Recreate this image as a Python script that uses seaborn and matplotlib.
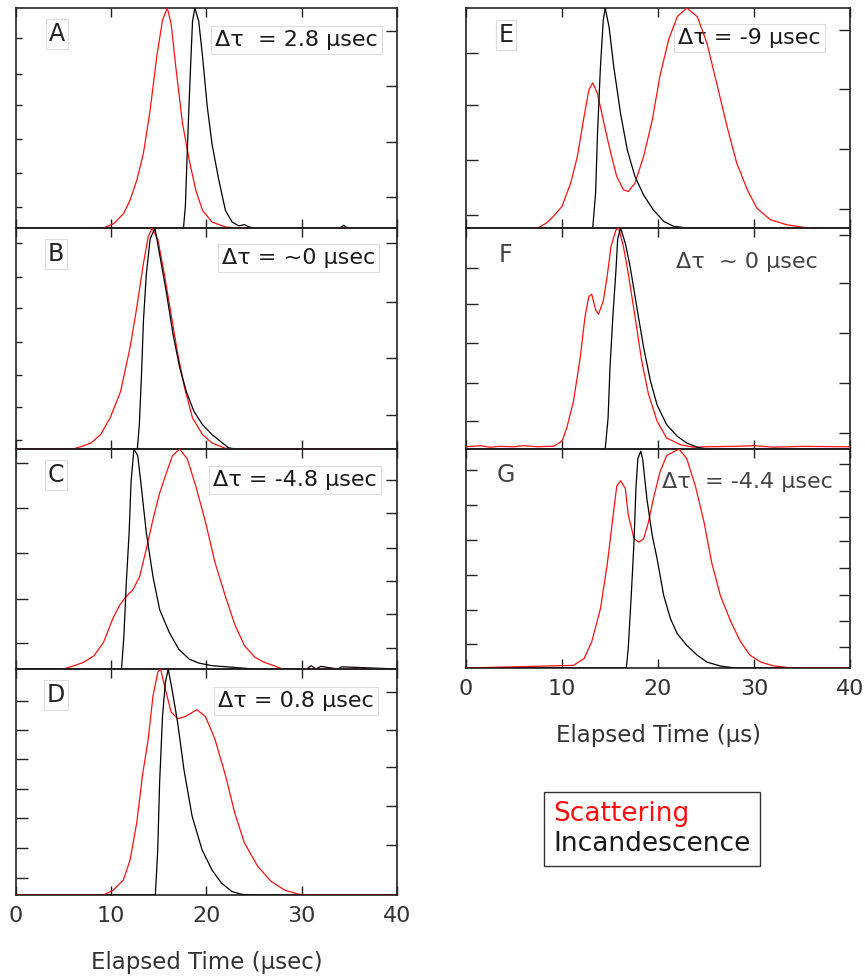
import numpy as np
import pandas as pd
import matplotlib
matplotlib.use("Agg")
import matplotlib.pyplot as plt
from matplotlib.lines import Line2D
import seaborn as sns

sns.set_style("ticks")
plt.rcParams["font.family"] = ["DejaVu Sans"]

# ---------------- data (normalized signal) ----------------
a_red_t = [0, 9.2, 10.3, 11.3, 12.0, 12.7, 13.4, 14.1, 14.8, 15.4, 15.9, 16.3, 16.8, 17.5, 18.2, 18.9, 19.6, 20.6, 22.0, 23.0, 40]
a_red_v = [0, 0, 0.02, 0.065, 0.126, 0.217, 0.34, 0.535, 0.78, 0.945, 1.0, 0.93, 0.73, 0.475, 0.31, 0.17, 0.08, 0.027, 0.005, 0, 0]
a_blk_t = [0, 17.6, 17.8, 18.0, 18.2, 18.4, 18.55, 18.8, 19.2, 19.6, 20.1, 20.6, 21.3, 22.0, 22.7, 23.4, 24.0, 24.5, 25.0, 34.0, 34.4, 34.8, 40]
a_blk_v = [0, 0, 0.1, 0.35, 0.58, 0.79, 0.94, 1.0, 0.94, 0.78, 0.55, 0.38, 0.22, 0.08, 0.027, 0.01, 0.015, 0.005, 0, 0, 0.012, 0, 0]

b_red_t = [0, 6.0, 6.8, 7.9, 8.9, 9.9, 11.0, 12.0, 12.7, 13.4, 13.9, 14.3, 14.9, 15.6, 16.3, 17.0, 17.7, 18.55, 19.6, 20.6, 22.0, 23.0, 40]
b_red_v = [0, 0, 0.01, 0.027, 0.065, 0.14, 0.26, 0.46, 0.64, 0.84, 0.96, 1.0, 0.95, 0.79, 0.61, 0.43, 0.28, 0.14, 0.065, 0.027, 0.003, 0, 0]
b_blk_t = [0, 12.76, 12.97, 13.2, 13.4, 13.7, 14.1, 14.6, 15.1, 15.8, 16.5, 17.2, 17.9, 18.7, 19.6, 20.6, 21.7, 22.3, 23.0, 40]
b_blk_v = [0, 0, 0.11, 0.34, 0.58, 0.79, 0.95, 1.0, 0.88, 0.71, 0.52, 0.37, 0.26, 0.17, 0.11, 0.065, 0.027, 0.006, 0, 0]

c_red_t = [0, 5.0, 6.1, 7.1, 8.2, 9.2, 10.2, 10.9, 11.6, 12.3, 13.0, 13.7, 14.4, 15.1, 15.8, 16.45, 17.2, 18.0, 18.9, 19.9, 20.9, 22.0, 23.0, 24.0, 25.1, 26.1, 27.1, 28.0, 40]
c_red_v = [0, 0, 0.015, 0.03, 0.06, 0.12, 0.23, 0.29, 0.33, 0.36, 0.42, 0.545, 0.68, 0.80, 0.89, 0.97, 1.0, 0.955, 0.83, 0.67, 0.485, 0.33, 0.20, 0.106, 0.053, 0.03, 0.015, 0, 0]
c_blk_t = [0, 11.1, 11.35, 11.6, 11.9, 12.1, 12.4, 12.8, 13.2, 13.7, 14.4, 15.1, 16.1, 17.1, 18.2, 19.2, 20.6, 22.7, 25.0, 30.5, 31.0, 31.5, 32.0, 33.8, 34.2, 40]
c_blk_v = [0, 0, 0.15, 0.39, 0.62, 0.85, 1.0, 0.97, 0.82, 0.62, 0.42, 0.27, 0.167, 0.09, 0.045, 0.027, 0.015, 0.008, 0, 0, 0.015, 0, 0.012, 0, 0.01, 0]

d_red_t = [0, 9.2, 10.2, 11.3, 12.0, 12.7, 13.3, 13.9, 14.4, 14.9, 15.2, 15.7, 16.3, 17.0, 17.8, 19.0, 19.9, 20.9, 22.0, 23.0, 24.0, 25.4, 26.8, 28.2, 29.6, 31.0, 40]
d_red_v = [0, 0, 0.02, 0.067, 0.155, 0.32, 0.53, 0.69, 0.88, 0.985, 1.0, 0.91, 0.81, 0.78, 0.79, 0.82, 0.79, 0.69, 0.53, 0.36, 0.23, 0.126, 0.06, 0.022, 0.004, 0, 0]
d_blk_t = [0, 14.65, 14.9, 15.1, 15.4, 15.7, 16.0, 16.4, 17.0, 17.65, 18.5, 19.55, 20.6, 21.6, 22.7, 23.7, 24.5, 40]
d_blk_v = [0, 0, 0.2, 0.5, 0.79, 0.94, 1.0, 0.91, 0.76, 0.555, 0.35, 0.2, 0.11, 0.052, 0.015, 0.003, 0, 0]

e_red_t = [0, 7.0, 7.6, 8.4, 9.1, 10.0, 10.9, 11.6, 12.3, 12.8, 13.2, 13.7, 14.3, 15.0, 15.7, 16.4, 16.9, 17.6, 18.5, 19.4, 20.2, 21.1, 22.0, 23.0, 24.1, 25.1, 26.1, 27.2, 28.2, 29.3, 30.3, 31.7, 33.4, 35.2, 36.0, 40]
e_red_v = [0, 0, 0.003, 0.023, 0.053, 0.098, 0.204, 0.325, 0.507, 0.628, 0.66, 0.61, 0.49, 0.355, 0.234, 0.174, 0.166, 0.204, 0.325, 0.49, 0.69, 0.855, 0.96, 1.0, 0.96, 0.84, 0.66, 0.46, 0.295, 0.174, 0.09, 0.038, 0.015, 0.003, 0, 0]
e_blk_t = [0, 13.2, 13.5, 13.7, 14.0, 14.3, 14.5, 14.9, 15.4, 16.1, 16.8, 17.6, 18.5, 19.5, 20.6, 21.6, 23.0, 40]
e_blk_v = [0, 0, 0.16, 0.43, 0.73, 0.945, 1.0, 0.915, 0.73, 0.52, 0.355, 0.234, 0.15, 0.083, 0.03, 0.008, 0, 0]

f_red_t = [0, 1.5, 2.5, 3.5, 5.0, 6.0, 7.5, 8.5, 9.1, 10.0, 10.5, 11.2, 11.9, 12.4, 12.8, 13.1, 13.5, 13.8, 14.3, 14.7, 15.1, 15.6, 15.9, 16.4, 16.9, 17.6, 18.3, 19.0, 19.9, 20.9, 22.3, 23.7, 25.0, 28.0, 30.0, 32.0, 35.0, 40]
f_red_v = [0.01, 0.015, 0.008, 0.012, 0.01, 0.015, 0.01, 0.012, 0.012, 0.035, 0.096, 0.217, 0.415, 0.6, 0.69, 0.70, 0.63, 0.61, 0.67, 0.78, 0.915, 0.99, 1.0, 0.915, 0.795, 0.6, 0.4, 0.25, 0.126, 0.05, 0.02, 0.008, 0.01, 0.012, 0.015, 0.008, 0.012, 0.01]
f_blk_t = [0, 14.5, 14.8, 15.0, 15.3, 15.6, 15.8, 16.1, 16.6, 17.1, 17.8, 18.5, 19.2, 19.9, 20.9, 22.0, 23.0, 24.1, 25.0, 40]
f_blk_v = [0, 0, 0.14, 0.37, 0.6, 0.795, 0.95, 1.0, 0.93, 0.825, 0.64, 0.46, 0.31, 0.2, 0.11, 0.058, 0.027, 0.008, 0, 0]

g_red_t = [0, 11.2, 12.3, 13.1, 14.0, 14.7, 15.2, 15.7, 16.1, 16.6, 16.9, 17.5, 18.0, 18.5, 19.0, 19.5, 20.2, 20.9, 22.2, 23.0, 23.9, 24.8, 25.6, 26.5, 27.6, 28.6, 29.6, 30.7, 32.0, 34.0, 40]
g_red_v = [0, 0.012, 0.043, 0.12, 0.27, 0.47, 0.65, 0.83, 0.855, 0.82, 0.7, 0.59, 0.575, 0.59, 0.665, 0.77, 0.894, 0.97, 1.0, 0.955, 0.83, 0.665, 0.48, 0.33, 0.21, 0.12, 0.058, 0.027, 0.01, 0, 0]
g_blk_t = [0, 16.7, 16.9, 17.2, 17.5, 17.7, 17.9, 18.2, 18.4, 18.85, 19.4, 19.9, 20.6, 21.3, 22.0, 23.0, 24.1, 25.1, 26.5, 28.0, 40]
g_blk_v = [0, 0, 0.09, 0.32, 0.575, 0.82, 0.955, 0.99, 0.955, 0.77, 0.605, 0.5, 0.33, 0.225, 0.157, 0.103, 0.058, 0.027, 0.009, 0, 0]

panel_letters = ["A", "B", "C", "D", "E", "F", "G"]
dt_labels = ["Δτ  = 2.8 µsec", "Δτ = ~0 µsec", "Δτ = -4.8 µsec", "Δτ = 0.8 µsec",
             "Δτ = -9 µsec", "Δτ  ~ 0 µsec", "Δτ  = -4.4 µsec"]
x_ticks = [0, 10, 20, 30, 40]
legend_labels = ["Scattering", "Incandescence"]

left_ticks = [[0.095, 0.25, 0.405, 0.56, 0.70, 0.864],
              [0.04, 0.19, 0.335, 0.485, 0.64, 0.78, 0.93],
              [0.118, 0.32, 0.528, 0.73, 0.938],
              [0.075, 0.21, 0.34, 0.47, 0.6, 0.73, 0.86],
              [0.06, 0.31, 0.56, 0.795],
              [0.127, 0.30, 0.48, 0.655, 0.82],
              [0.111, 0.264, 0.423, 0.586, 0.745, 0.904]]
right_ticks = [[0.14, 0.39, 0.645, 0.895],
               [0.155, 0.41, 0.665, 0.93],
               [0.097, 0.249, 0.4, 0.552, 0.707, 0.859],
               [0.22, 0.395, 0.565, 0.73, 0.9],
               [0.086, 0.36, 0.63, 0.9],
               [0.072, 0.3, 0.525, 0.75, 0.97],
               [0.097, 0.214, 0.335, 0.457, 0.578, 0.689, 0.809, 0.932]]

series = [(a_red_t, a_red_v, a_blk_t, a_blk_v), (b_red_t, b_red_v, b_blk_t, b_blk_v),
          (c_red_t, c_red_v, c_blk_t, c_blk_v), (d_red_t, d_red_v, d_blk_t, d_blk_v),
          (e_red_t, e_red_v, e_blk_t, e_blk_v), (f_red_t, f_red_v, f_blk_t, f_blk_v),
          (g_red_t, g_red_v, g_blk_t, g_blk_v)]

# ---------------- layout ----------------
W, H = 865, 977
fig = plt.figure(figsize=(W / 100, H / 100), dpi=100)

# axes boxes in pixels: (x0, x1, ytop, ybottom)
boxes = [(15.7, 397, 8, 228), (15.7, 397, 228, 449), (15.7, 397, 449, 669), (15.7, 397, 669, 895),
         (466, 850, 8, 228), (466, 850, 228, 449), (466, 850, 449, 668)]
left_len = [4.3, 4.5, 8.5, 8.5, 8.5, 8.5, 8]

def fx(x):
    return x / W

def fy(y):
    return 1 - y / H

letter_pos = [(57, 34, True), (56, 254, True), (56, 475, True), (56, 695, True),
              (506, 35, True), (505, 255, False), (506, 475, False)]
dt_pos = [(215, 40, True), (222, 258, True), (213, 480, True), (218, 701, True),
          (678, 38, True), (676, 262, False), (662, 482, False)]

for i, (x0, x1, yt, yb) in enumerate(boxes):
    ax = fig.add_axes([fx(x0), fy(yb), (x1 - x0) / W, (yb - yt) / H])
    rt, rv, bt, bv = series[i]
    sns.lineplot(x=rt, y=rv, ax=ax, color="#ff1010", lw=0.9, zorder=3)
    sns.lineplot(x=bt, y=bv, ax=ax, color="black", lw=0.9, zorder=3)
    ax.set_xlim(0, 40)
    ax.set_ylim(0, 1)
    ax.set_xticks(x_ticks)
    ax.set_yticks(left_ticks[i])
    ax.set_ylabel("")
    ax.set_xlabel("")
    ax.tick_params(axis="x", direction="in", top=True, bottom=True, length=6.5, width=1.0,
                   labelsize=16, pad=8, colors="#222222", labelcolor="#333333")
    ax.tick_params(axis="y", direction="in", left=True, right=False, length=left_len[i],
                   width=1.0, labelleft=False, colors="#222222")
    bottom_panel = i in (3, 6)
    if not bottom_panel:
        ax.tick_params(axis="x", labelbottom=False)
    for s in ax.spines.values():
        s.set_color("#222222")
        s.set_linewidth(1.2)
    ax2 = ax.twinx()
    ax2.set_ylim(0, 1)
    ax2.set_yticks(right_ticks[i])
    ax2.tick_params(axis="y", direction="in", length=8, width=1.0, labelright=False, colors="#222222")
    for s in ax2.spines.values():
        s.set_visible(False)
    ax.patch.set_visible(False)

    # panel letter
    lx, ly, lbox = letter_pos[i]
    kw = {}
    if lbox:
        kw["bbox"] = dict(boxstyle="square,pad=0.12", fc="white", ec="#dcdcdc", lw=0.8)
    ax.text(fx(lx), fy(ly), panel_letters[i], transform=fig.transFigure, fontsize=17,
            ha="center", va="center", color="#222222" if lbox else "#444444", zorder=1, **kw)
    # delta tau label
    dx, dy, dbox = dt_pos[i]
    kw = {}
    if dbox:
        kw["bbox"] = dict(boxstyle="square,pad=0.18", fc="white", ec="#dcdcdc", lw=0.8)
    ax.text(fx(dx), fy(dy), dt_labels[i], transform=fig.transFigure, fontsize=16,
            ha="left", va="center", color="#1a1a1a" if dbox else "#444444", zorder=1, **kw)

    if i == 3:
        ax.set_xlabel("Elapsed Time (µsec)", fontsize=16.5, color="#333333", labelpad=18)
    if i == 6:
        ax.set_xlabel("Elapsed Time (µs)", fontsize=16.5, color="#333333", labelpad=18)

handles = [Line2D([], [], color="none"), Line2D([], [], color="none")]
leg = fig.legend(handles, legend_labels, loc="upper left",
                 bbox_to_anchor=(fx(544), fy(792)), bbox_transform=fig.transFigure,
                 handlelength=0, handletextpad=0, fontsize=19, frameon=True,
                 fancybox=False, edgecolor="black", borderpad=0.35, labelspacing=0.15,
                 borderaxespad=0, labelcolor=["#ff1010", "#1a1a1a"])
leg.get_frame().set_linewidth(1.0)

fig.savefig("out.png", dpi=100)
